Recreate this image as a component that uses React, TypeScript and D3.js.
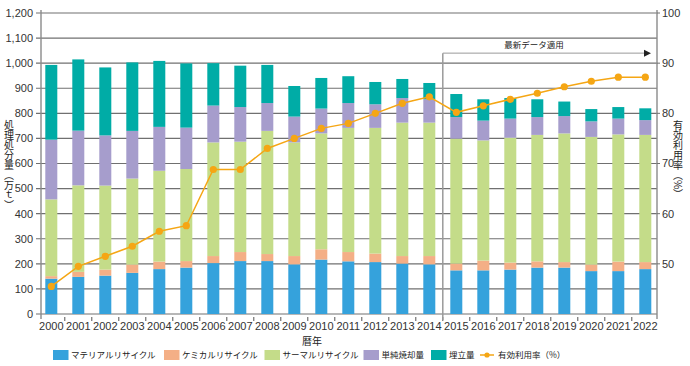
import React, { useRef, useEffect } from "react";
import * as d3 from "d3";

const years = ['2000', '2001', '2002', '2003', '2004', '2005', '2006', '2007', '2008', '2009', '2010', '2011',
  '2012', '2013', '2014', '2015', '2016', '2017', '2018', '2019', '2020', '2021', '2022'];
// 万t
const material = [141, 148, 153, 164, 179, 185, 203, 211, 211, 198, 217, 210, 207, 201, 198, 174, 174, 177, 185, 185, 171, 171, 179];
const chemical = [10, 20, 24, 33, 30, 26, 28, 36, 28, 33, 41, 37, 34, 30, 33, 27, 39, 28, 25, 22, 26, 38, 28];
const thermal = [306, 345, 335, 343, 362, 367, 453, 440, 491, 453, 462, 495, 501, 532, 532, 498, 479, 498, 504, 513, 509, 507, 507];
const incineration = [238, 218, 200, 190, 175, 165, 147, 138, 111, 103, 99, 99, 94, 98, 93, 86, 79, 76, 71, 69, 62, 63, 59];
const landfill = [298, 284, 271, 273, 263, 256, 169, 165, 152, 122, 122, 107, 89, 76, 65, 92, 85, 82, 71, 58, 49, 46, 47];
// 有効利用率 (%)
const rate = [45.5, 49.5, 51.5, 53.5, 56.5, 57.6, 68.8, 68.8, 73, 75, 77, 78, 80, 82, 83.3, 80.2, 81.5, 82.8, 84, 85.3, 86.4, 87.2, 87.2];

const seriesNames = ['マテリアルリサイクル', 'ケミカルリサイクル', 'サーマルリサイクル', '単純焼却量', '埋立量'];
const seriesKeys = ['material', 'chemical', 'thermal', 'incineration', 'landfill'];
const colors = ['#35a2dc', '#f4af86', '#c4dc89', '#a69dcc', '#00aca6'];
const lineColor = '#f5a614';
const leftTicks = [0, 100, 200, 300, 400, 500, 600, 700, 800, 900, 1000, 1100, 1200];
const rightTicks = [50, 60, 70, 80, 90, 100];

const width = 690;
const height = 366;
const margin = { top: 13, left: 41, right: 657, bottom: 314 };

const numFont = '"Liberation Sans Narrow", "Arial Narrow", "Liberation Sans", sans-serif';
const jpFont = '"Noto Sans CJK JP", "Noto Sans", sans-serif';

export default function App() {
  const svgRef = useRef<SVGSVGElement>(null);

  useEffect(() => {
    if (!svgRef.current) return;
    const svg = d3.select(svgRef.current);
    svg.selectAll('*').remove();

    const table = years.map((year, i) => ({
      year,
      material: material[i],
      chemical: chemical[i],
      thermal: thermal[i],
      incineration: incineration[i],
      landfill: landfill[i],
    }));

    const xScale = d3.scaleBand().domain(years).range([37.8, 658.8]).paddingInner(15 / 27).paddingOuter(7.5 / 27);
    const yScale = d3.scaleLinear().domain([0, 1200]).range([margin.bottom, margin.top]);
    const rScale = d3.scaleLinear().domain([40, 100]).range([margin.bottom, margin.top]);
    const gap = xScale.step() * xScale.paddingOuter();

    // grid
    svg.append('g').selectAll('line').data(leftTicks).join('line')
      .attr('x1', margin.left - 5).attr('x2', margin.right)
      .attr('y1', d => yScale(d)).attr('y2', d => yScale(d))
      .attr('stroke', '#707070').attr('stroke-width', 1.1);

    // left axis
    svg.append('line').attr('x1', margin.left).attr('x2', margin.left)
      .attr('y1', margin.top - 3).attr('y2', margin.bottom + 5)
      .attr('stroke', '#8a8a8a').attr('stroke-width', 1.4);
    svg.append('g').selectAll('text').data(leftTicks).join('text')
      .attr('x', 33).attr('y', d => yScale(d)).attr('dy', '0.35em')
      .attr('text-anchor', 'end').attr('font-family', numFont).attr('font-size', 11).attr('fill', '#333')
      .text(d => d3.format(',')(d));

    // right axis
    svg.append('line').attr('x1', margin.right).attr('x2', margin.right)
      .attr('y1', margin.top - 3).attr('y2', margin.bottom + 5)
      .attr('stroke', '#8a8a8a').attr('stroke-width', 1.4);
    svg.append('g').selectAll('line').data(rightTicks).join('line')
      .attr('x1', margin.right).attr('x2', margin.right + 3)
      .attr('y1', d => rScale(d)).attr('y2', d => rScale(d))
      .attr('stroke', '#707070');
    svg.append('g').selectAll('text').data(rightTicks).join('text')
      .attr('x', 662).attr('y', d => rScale(d)).attr('dy', '0.35em')
      .attr('font-family', numFont).attr('font-size', 11).attr('fill', '#333')
      .text(d => d);

    // bars
    const stacked = d3.stack<any>().keys(seriesKeys)(table);
    stacked.forEach((layer, k) => {
      svg.append('g').selectAll('rect').data(layer).join('rect')
        .attr('x', d => xScale(d.data.year) as number)
        .attr('width', xScale.bandwidth())
        .attr('y', d => yScale(d[1]))
        .attr('height', d => yScale(d[0]) - yScale(d[1]))
        .attr('fill', colors[k]);
    });

    // x axis ticks + labels
    svg.append('g').selectAll('line').data(years.slice(1)).join('line')
      .attr('x1', d => (xScale(d) as number) - gap).attr('x2', d => (xScale(d) as number) - gap)
      .attr('y1', margin.bottom + 3).attr('y2', margin.bottom + 7)
      .attr('stroke', '#555');
    svg.append('g').selectAll('text').data(years).join('text')
      .attr('x', d => (xScale(d) as number) + xScale.bandwidth() / 2)
      .attr('y', 326).attr('dy', '0.35em').attr('text-anchor', 'middle')
      .attr('font-family', numFont).attr('font-size', 11).attr('fill', '#333')
      .text(d => d);

    // latest data divider
    const sepX = (xScale('2015') as number) - gap;
    const arrowY = yScale(1040);
    svg.append('line').attr('x1', sepX).attr('x2', sepX).attr('y1', arrowY).attr('y2', margin.bottom + 6)
      .attr('stroke', '#9a9a9a').attr('stroke-width', 1.5);
    svg.append('line').attr('x1', sepX).attr('x2', 645).attr('y1', arrowY).attr('y2', arrowY)
      .attr('stroke', '#9a9a9a').attr('stroke-width', 1);
    svg.append('path').attr('d', `M644,${arrowY - 3.5} L651,${arrowY} L644,${arrowY + 3.5} Z`).attr('fill', '#222');
    svg.append('text').attr('x', 534).attr('y', arrowY - 8).attr('dy', '0.35em').attr('text-anchor', 'middle')
      .attr('font-family', jpFont).attr('font-size', 8.5).attr('fill', '#222')
      .text('最新データ適用');

    // rate line
    const lineGenerator = d3.line<number>()
      .x((_, i) => (xScale(years[i]) as number) + xScale.bandwidth() / 2)
      .y(d => rScale(d));
    svg.append('path').attr('d', lineGenerator(rate) as string)
      .attr('fill', 'none').attr('stroke', lineColor).attr('stroke-width', 1.5);
    svg.append('g').selectAll('circle').data(rate).join('circle')
      .attr('cx', (_, i) => (xScale(years[i]) as number) + xScale.bandwidth() / 2)
      .attr('cy', d => rScale(d)).attr('r', 3.6).attr('fill', lineColor);

    // axis titles
    svg.append('text').attr('x', 9).attr('y', 120)
      .style('writing-mode', 'vertical-rl')
      .attr('font-family', jpFont).attr('font-size', 10).attr('fill', '#222')
      .text('処理処分量（万ｔ）');
    svg.append('text').attr('x', 678).attr('y', 120)
      .style('writing-mode', 'vertical-rl')
      .attr('font-family', jpFont).attr('font-size', 10).attr('fill', '#222')
      .text('有効利用率（%）');
    svg.append('text').attr('x', 312).attr('y', 341).attr('dy', '0.35em').attr('text-anchor', 'middle')
      .attr('font-family', jpFont).attr('font-size', 10).attr('fill', '#222')
      .text('暦年');

    // legend
    const legendX = [53, 164, 264.5, 363.5, 431];
    const legendY = 355;
    seriesNames.forEach((name, k) => {
      svg.append('rect').attr('x', legendX[k]).attr('y', legendY - 5).attr('width', 15.5).attr('height', 10)
        .attr('fill', colors[k]);
      svg.append('text').attr('x', legendX[k] + 18).attr('y', legendY).attr('dy', '0.35em')
        .attr('font-family', jpFont).attr('font-size', 8.5).attr('fill', '#222')
        .text(name);
    });
    svg.append('line').attr('x1', 480).attr('x2', 494).attr('y1', legendY).attr('y2', legendY)
      .attr('stroke', lineColor).attr('stroke-width', 1.5);
    svg.append('circle').attr('cx', 487).attr('cy', legendY).attr('r', 2.6).attr('fill', lineColor);
    svg.append('text').attr('x', 498).attr('y', legendY).attr('dy', '0.35em')
      .attr('font-family', jpFont).attr('font-size', 8.5).attr('fill', '#222')
      .text('有効利用率（%）');
  }, []);

  return (
    <svg ref={svgRef} width={width} height={height}
      style={{ position: 'absolute', left: 0, top: 0, background: '#fff' }} />
  );
}
